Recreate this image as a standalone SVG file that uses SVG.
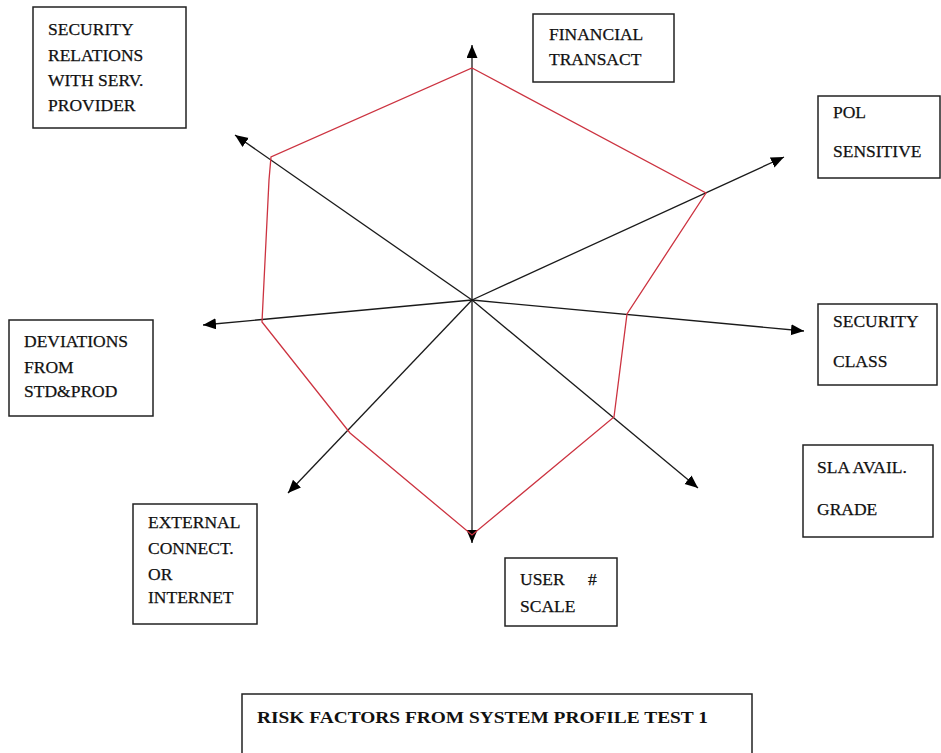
<svg xmlns="http://www.w3.org/2000/svg" width="941" height="753" viewBox="0 0 941 753">
  <style>
    .box { fill: #ffffff; stroke: #222222; stroke-width: 1.5; }
    .lbl { font-family: "Liberation Serif", "DejaVu Serif", serif; font-size: 17.5px; fill: #111111; stroke: #111111; stroke-width: 0.25; }
    .title { font-family: "Liberation Serif", "DejaVu Serif", serif; font-size: 17px; font-weight: bold; fill: #111111; }
    .axis { stroke: #1a1a1a; stroke-width: 1.3; fill: none; marker-end: url(#tip); }
    .profile { stroke: #cc3340; stroke-width: 1.3; fill: none; stroke-linejoin: miter; }
  </style>
  <defs>
    <marker id="tip" markerUnits="userSpaceOnUse" markerWidth="14" markerHeight="12" refX="13" refY="5.5" orient="auto">
      <path d="M0,0 L13,5.5 L0,11 Z" fill="#000000"/>
    </marker>
  </defs>
  <rect width="941" height="753" fill="#ffffff"/>

  <!-- radar axes from the common origin -->
  <g id="connectors">
    <line class="axis" x1="472" y1="300" x2="472" y2="45"/>
    <line class="axis" x1="472" y1="300" x2="784" y2="157"/>
    <line class="axis" x1="472" y1="300" x2="804" y2="331"/>
    <line class="axis" x1="472" y1="300" x2="698" y2="488"/>
    <line class="axis" x1="472" y1="300" x2="472" y2="543"/>
    <line class="axis" x1="472" y1="300" x2="288" y2="493"/>
    <line class="axis" x1="472" y1="300" x2="203" y2="325"/>
    <line class="axis" x1="472" y1="300" x2="235" y2="135"/>
  </g>

  <!-- risk profile outline -->
  <g id="profile">
    <polygon class="profile" points="472,68 706,193 627,314 614,417 472,535 350,433 262,322 269,180 271,157"/>
  </g>

  <g id="node-security-relations">
    <rect class="box" x="33" y="7" width="153" height="121"/>
    <text class="lbl" x="48" y="35">SECURITY</text>
    <text class="lbl" x="48" y="61">RELATIONS</text>
    <text class="lbl" x="48" y="86">WITH SERV.</text>
    <text class="lbl" x="48" y="111">PROVIDER</text>
  </g>

  <g id="node-financial">
    <rect class="box" x="533" y="14" width="141" height="68"/>
    <text class="lbl" x="549" y="40">FINANCIAL</text>
    <text class="lbl" x="549" y="65">TRANSACT</text>
  </g>

  <g id="node-pol-sensitive">
    <rect class="box" x="818" y="96" width="122" height="82"/>
    <text class="lbl" x="833" y="118">POL</text>
    <text class="lbl" x="833" y="157">SENSITIVE</text>
  </g>

  <g id="node-security-class">
    <rect class="box" x="818" y="304" width="119" height="81"/>
    <text class="lbl" x="833" y="327">SECURITY</text>
    <text class="lbl" x="833" y="367">CLASS</text>
  </g>

  <g id="node-sla">
    <rect class="box" x="803" y="445" width="130" height="92"/>
    <text class="lbl" x="817" y="473">SLA AVAIL.</text>
    <text class="lbl" x="817" y="515">GRADE</text>
  </g>

  <g id="node-user-scale">
    <rect class="box" x="505" y="558" width="112" height="68"/>
    <text class="lbl" x="520" y="585">USER</text>
    <text class="lbl" x="588" y="585">#</text>
    <text class="lbl" x="520" y="612">SCALE</text>
  </g>

  <g id="node-external">
    <rect class="box" x="133" y="504" width="124" height="120"/>
    <text class="lbl" x="148" y="528">EXTERNAL</text>
    <text class="lbl" x="148" y="554">CONNECT.</text>
    <text class="lbl" x="148" y="580">OR</text>
    <text class="lbl" x="148" y="603">INTERNET</text>
  </g>

  <g id="node-deviations">
    <rect class="box" x="9" y="320" width="144" height="96"/>
    <text class="lbl" x="24" y="347">DEVIATIONS</text>
    <text class="lbl" x="24" y="373">FROM</text>
    <text class="lbl" x="24" y="397">STD&amp;PROD</text>
  </g>

  <g id="node-title">
    <rect class="box" x="242" y="694" width="510" height="70"/>
    <text class="title" x="257" y="723" textLength="451" lengthAdjust="spacingAndGlyphs">RISK FACTORS FROM SYSTEM PROFILE TEST 1</text>
  </g>
</svg>
